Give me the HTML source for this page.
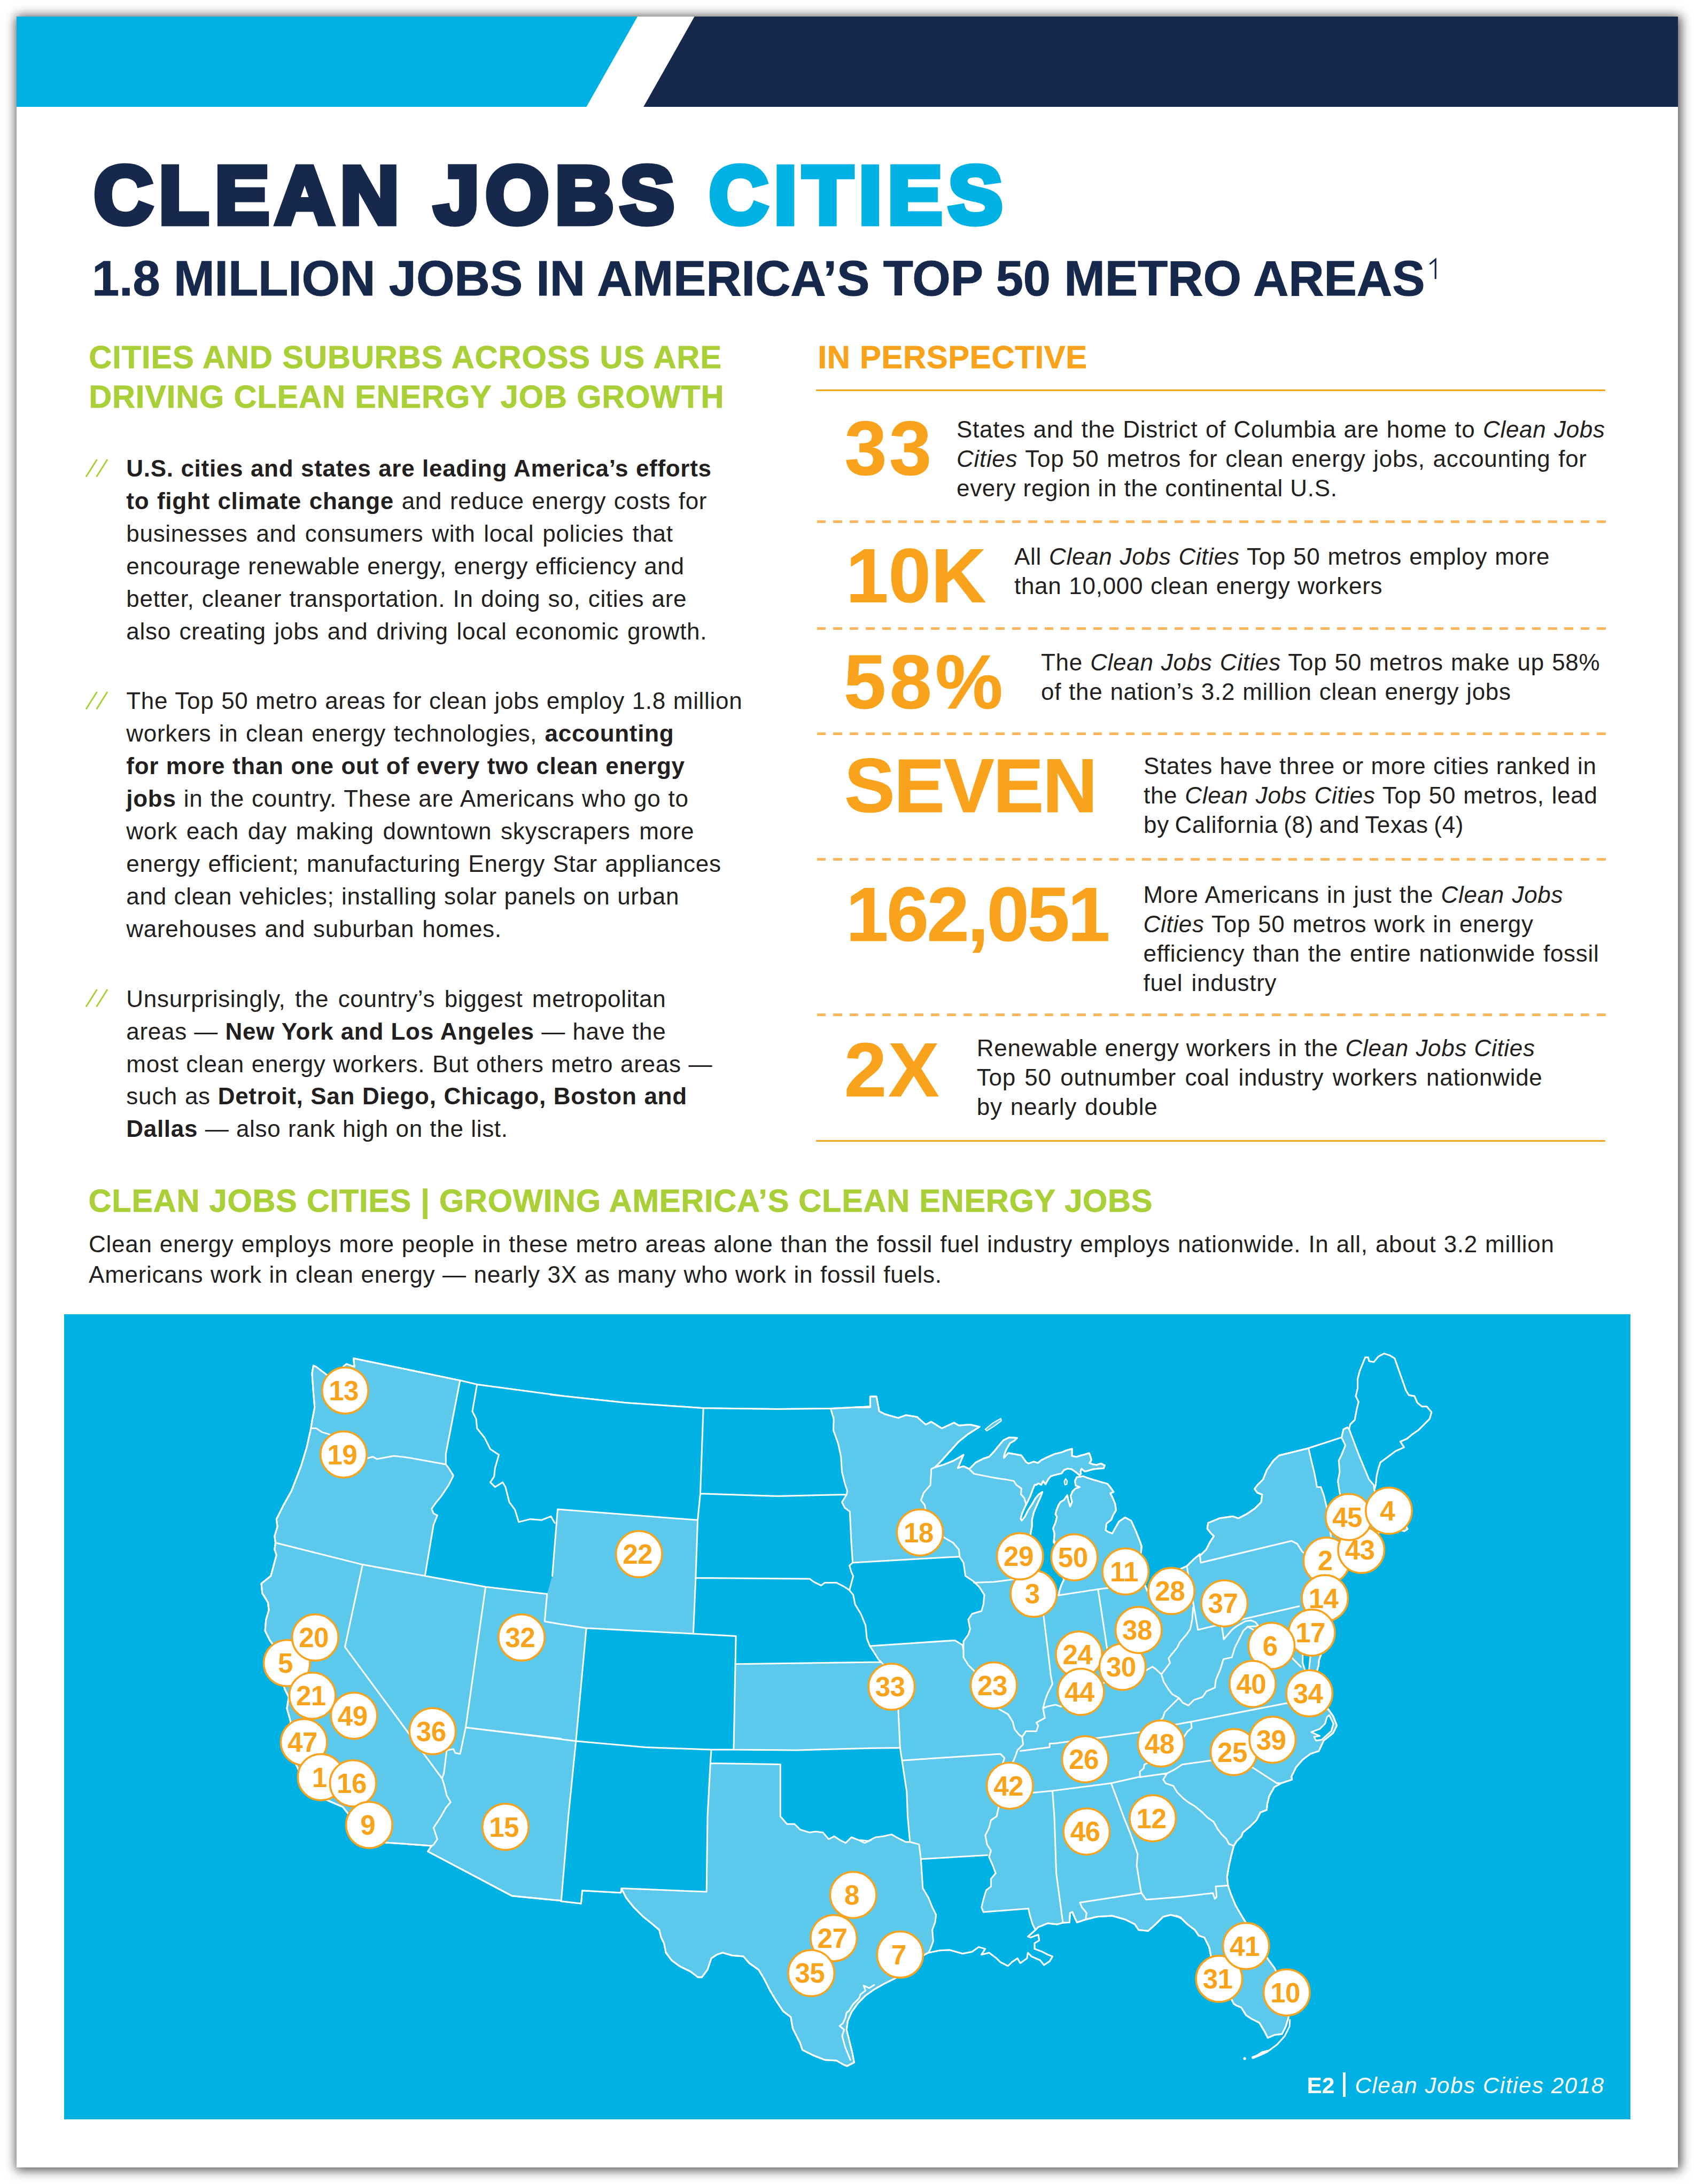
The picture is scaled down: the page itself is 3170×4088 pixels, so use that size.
<!DOCTYPE html>
<html><head><meta charset="utf-8"><title>Clean Jobs Cities</title>
<style>
html,body{margin:0;padding:0;background:#fff;}
body{width:3170px;height:4088px;position:relative;overflow:hidden;font-family:"Liberation Sans",sans-serif;}
#page{position:absolute;left:31px;top:31px;width:3109px;height:4026px;background:#fff;box-shadow:2px 2px 19px 3px rgba(0,0,0,.7);}
.t{position:absolute;z-index:3;white-space:nowrap;font-family:"Liberation Sans",sans-serif;}
.abs{position:absolute}
</style></head><body>
<div id="page"></div>
<svg class="abs" style="left:31px;top:31px" width="3109" height="169" viewBox="31 31 3109 169">
<polygon points="31,31 1193,31 1097.4,200 31,200" fill="#00B2E3"/>
<polygon points="1299.6,31 3140,31 3140,200 1204.2,200" fill="#17284D"/>
</svg>
<div style="position:absolute;left:1527.2px;top:728.5px;width:1476.8px;height:3px;background:#F9A21C"></div>
<div style="position:absolute;left:1529px;top:974.3px;width:1476px;height:5px;background:repeating-linear-gradient(90deg,#FDB75E 0 16.5px,transparent 16.5px 30.4px)"></div>
<div style="position:absolute;left:1529px;top:1174.3px;width:1476px;height:5px;background:repeating-linear-gradient(90deg,#FDB75E 0 16.5px,transparent 16.5px 30.4px)"></div>
<div style="position:absolute;left:1529px;top:1371px;width:1476px;height:5px;background:repeating-linear-gradient(90deg,#FDB75E 0 16.5px,transparent 16.5px 30.4px)"></div>
<div style="position:absolute;left:1529px;top:1606.1px;width:1476px;height:5px;background:repeating-linear-gradient(90deg,#FDB75E 0 16.5px,transparent 16.5px 30.4px)"></div>
<div style="position:absolute;left:1529px;top:1897.3px;width:1476px;height:5px;background:repeating-linear-gradient(90deg,#FDB75E 0 16.5px,transparent 16.5px 30.4px)"></div>
<div style="position:absolute;left:1527.2px;top:2133.8px;width:1476.8px;height:3px;background:#F9A21C"></div>
<div class="t" id="l0" style="left:176.0px;top:289.3px;font-size:152px;line-height:152px;color:#17284D;font-weight:bold;letter-spacing:11.764px;-webkit-text-stroke:11px currentColor;word-spacing:0px;paint-order:stroke fill;">CLEAN JOBS <span style="color:#00B2E3">CITIES</span></div>
<div class="t" id="l1" style="left:172.0px;top:475.4px;font-size:92px;line-height:92px;color:#17284D;font-weight:bold;letter-spacing:-0.112px;-webkit-text-stroke:1px currentColor;">1.8 MILLION JOBS IN AMERICA’S TOP 50 METRO AREAS</div>
<div class="t" id="l2" style="left:166.2px;top:639.3px;font-size:59.5px;line-height:59.5px;color:#A9D038;font-weight:bold;letter-spacing:0.969px;-webkit-text-stroke:0.8px currentColor;">CITIES AND SUBURBS ACROSS US ARE</div>
<div class="t" id="l3" style="left:166.2px;top:712.5px;font-size:59.5px;line-height:59.5px;color:#A9D038;font-weight:bold;letter-spacing:0.858px;-webkit-text-stroke:0.8px currentColor;">DRIVING CLEAN ENERGY JOB GROWTH</div>
<div class="t" id="l4" style="left:236.3px;top:855.2px;font-size:44px;line-height:44px;color:#231F20;font-weight:normal;letter-spacing:0.700px;word-spacing:0.835px;"><b>U.S. cities and states are leading America’s efforts</b></div>
<div class="t" id="l5" style="left:236.3px;top:916.1px;font-size:44px;line-height:44px;color:#231F20;font-weight:normal;letter-spacing:0.700px;word-spacing:1.795px;"><b>to fight climate change</b> and reduce energy costs for</div>
<div class="t" id="l6" style="left:236.3px;top:977.1px;font-size:44px;line-height:44px;color:#231F20;font-weight:normal;letter-spacing:0.700px;word-spacing:3.025px;">businesses and consumers with local policies that</div>
<div class="t" id="l7" style="left:236.3px;top:1038.0px;font-size:44px;line-height:44px;color:#231F20;font-weight:normal;letter-spacing:0.700px;word-spacing:0.786px;">encourage renewable energy, energy efficiency and</div>
<div class="t" id="l8" style="left:236.3px;top:1099.0px;font-size:44px;line-height:44px;color:#231F20;font-weight:normal;letter-spacing:0.700px;word-spacing:1.435px;">better, cleaner transportation. In doing so, cities are</div>
<div class="t" id="l9" style="left:236.3px;top:1159.9px;font-size:44px;line-height:44px;color:#231F20;font-weight:normal;letter-spacing:0.700px;word-spacing:2.875px;">also creating jobs and driving local economic growth.</div>
<div class="t" id="l10" style="left:236.3px;top:1290.0px;font-size:44px;line-height:44px;color:#231F20;font-weight:normal;letter-spacing:0.700px;word-spacing:0.925px;">The Top 50 metro areas for clean jobs employ 1.8 million</div>
<div class="t" id="l11" style="left:236.3px;top:1350.9px;font-size:44px;line-height:44px;color:#231F20;font-weight:normal;letter-spacing:0.700px;word-spacing:1.660px;">workers in clean energy technologies, <b>accounting</b></div>
<div class="t" id="l12" style="left:236.3px;top:1411.9px;font-size:44px;line-height:44px;color:#231F20;font-weight:normal;letter-spacing:0.700px;word-spacing:0.848px;"><b>for more than one out of every two clean energy</b></div>
<div class="t" id="l13" style="left:236.3px;top:1472.8px;font-size:44px;line-height:44px;color:#231F20;font-weight:normal;letter-spacing:0.700px;word-spacing:1.267px;"><b>jobs</b> in the country. These are Americans who go to</div>
<div class="t" id="l14" style="left:236.3px;top:1533.8px;font-size:44px;line-height:44px;color:#231F20;font-weight:normal;letter-spacing:0.700px;word-spacing:3.877px;">work each day making downtown skyscrapers more</div>
<div class="t" id="l15" style="left:236.3px;top:1594.7px;font-size:44px;line-height:44px;color:#231F20;font-weight:normal;letter-spacing:0.700px;word-spacing:1.512px;">energy efficient; manufacturing Energy Star appliances</div>
<div class="t" id="l16" style="left:236.3px;top:1655.7px;font-size:44px;line-height:44px;color:#231F20;font-weight:normal;letter-spacing:0.700px;word-spacing:0.773px;">and clean vehicles; installing solar panels on urban</div>
<div class="t" id="l17" style="left:236.3px;top:1716.6px;font-size:44px;line-height:44px;color:#231F20;font-weight:normal;letter-spacing:0.700px;word-spacing:2.096px;">warehouses and suburban homes.</div>
<div class="t" id="l18" style="left:236.3px;top:1847.6px;font-size:44px;line-height:44px;color:#231F20;font-weight:normal;letter-spacing:0.700px;word-spacing:4.506px;">Unsurprisingly, the country’s biggest metropolitan</div>
<div class="t" id="l19" style="left:236.3px;top:1908.5px;font-size:44px;line-height:44px;color:#231F20;font-weight:normal;letter-spacing:0.700px;word-spacing:0.567px;">areas — <b>New York and Los Angeles</b> — have the</div>
<div class="t" id="l20" style="left:236.3px;top:1969.5px;font-size:44px;line-height:44px;color:#231F20;font-weight:normal;letter-spacing:0.700px;word-spacing:0.901px;">most clean energy workers. But others metro areas —</div>
<div class="t" id="l21" style="left:236.3px;top:2030.4px;font-size:44px;line-height:44px;color:#231F20;font-weight:normal;letter-spacing:0.700px;word-spacing:0.973px;">such as <b>Detroit, San Diego, Chicago, Boston and</b></div>
<div class="t" id="l22" style="left:236.3px;top:2091.4px;font-size:44px;line-height:44px;color:#231F20;font-weight:normal;letter-spacing:0.700px;word-spacing:0.624px;"><b>Dallas</b> — also rank high on the list.</div>
<div class="t" id="l23" style="left:1530.4px;top:639.3px;font-size:59.5px;line-height:59.5px;color:#F9A21C;font-weight:bold;letter-spacing:0.842px;-webkit-text-stroke:0.8px currentColor;">IN PERSPECTIVE</div>
<div class="t" id="l24" style="left:1790.0px;top:781.9px;font-size:44px;line-height:44px;color:#231F20;font-weight:normal;letter-spacing:0.700px;word-spacing:1.628px;">States and the District of Columbia are home to <i>Clean Jobs</i></div>
<div class="t" id="l25" style="left:1790.0px;top:836.8px;font-size:44px;line-height:44px;color:#231F20;font-weight:normal;letter-spacing:0.700px;word-spacing:1.921px;"><i>Cities</i> Top 50 metros for clean energy jobs, accounting for</div>
<div class="t" id="l26" style="left:1790.0px;top:891.7px;font-size:44px;line-height:44px;color:#231F20;font-weight:normal;letter-spacing:0.700px;word-spacing:0.531px;">every region in the continental U.S.</div>
<div class="t" id="l27" style="left:1898.0px;top:1020.1px;font-size:44px;line-height:44px;color:#231F20;font-weight:normal;letter-spacing:0.700px;word-spacing:1.139px;">All <i>Clean Jobs Cities</i> Top 50 metros employ more</div>
<div class="t" id="l28" style="left:1898.0px;top:1075.0px;font-size:44px;line-height:44px;color:#231F20;font-weight:normal;letter-spacing:0.700px;word-spacing:1.007px;">than 10,000 clean energy workers</div>
<div class="t" id="l29" style="left:1948.0px;top:1218.4px;font-size:44px;line-height:44px;color:#231F20;font-weight:normal;letter-spacing:0.700px;word-spacing:1.273px;">The <i>Clean Jobs Cities</i> Top 50 metros make up 58%</div>
<div class="t" id="l30" style="left:1948.0px;top:1273.3px;font-size:44px;line-height:44px;color:#231F20;font-weight:normal;letter-spacing:0.700px;word-spacing:1.085px;">of the nation’s 3.2 million clean energy jobs</div>
<div class="t" id="l31" style="left:2140.0px;top:1412.4px;font-size:44px;line-height:44px;color:#231F20;font-weight:normal;letter-spacing:0.700px;word-spacing:0.554px;">States have three or more cities ranked in</div>
<div class="t" id="l32" style="left:2140.0px;top:1467.3px;font-size:44px;line-height:44px;color:#231F20;font-weight:normal;letter-spacing:0.700px;word-spacing:1.051px;">the <i>Clean Jobs Cities</i> Top 50 metros, lead</div>
<div class="t" id="l33" style="left:2140.0px;top:1522.2px;font-size:44px;line-height:44px;color:#231F20;font-weight:normal;letter-spacing:0.700px;word-spacing:-2.213px;">by California (8) and Texas (4)</div>
<div class="t" id="l34" style="left:2139.5px;top:1653.2px;font-size:44px;line-height:44px;color:#231F20;font-weight:normal;letter-spacing:0.700px;word-spacing:1.500px;">More Americans in just the <i>Clean Jobs</i></div>
<div class="t" id="l35" style="left:2139.5px;top:1708.1px;font-size:44px;line-height:44px;color:#231F20;font-weight:normal;letter-spacing:0.700px;word-spacing:1.178px;"><i>Cities</i> Top 50 metros work in energy</div>
<div class="t" id="l36" style="left:2139.5px;top:1763.0px;font-size:44px;line-height:44px;color:#231F20;font-weight:normal;letter-spacing:0.700px;word-spacing:2.174px;">efficiency than the entire nationwide fossil</div>
<div class="t" id="l37" style="left:2139.5px;top:1817.9px;font-size:44px;line-height:44px;color:#231F20;font-weight:normal;letter-spacing:0.700px;word-spacing:3.456px;">fuel industry</div>
<div class="t" id="l38" style="left:1827.8px;top:1939.8px;font-size:44px;line-height:44px;color:#231F20;font-weight:normal;letter-spacing:0.700px;word-spacing:0.425px;">Renewable energy workers in the <i>Clean Jobs Cities</i></div>
<div class="t" id="l39" style="left:1827.8px;top:1994.7px;font-size:44px;line-height:44px;color:#231F20;font-weight:normal;letter-spacing:0.700px;word-spacing:3.606px;">Top 50 outnumber coal industry workers nationwide</div>
<div class="t" id="l40" style="left:1827.8px;top:2049.6px;font-size:44px;line-height:44px;color:#231F20;font-weight:normal;letter-spacing:0.700px;word-spacing:2.250px;">by nearly double</div>
<div class="t" id="l41" style="left:1580.4px;top:768.3px;font-size:142px;line-height:142px;color:#F9A21C;font-weight:bold;letter-spacing:4.700px;-webkit-text-stroke:1px currentColor;">33</div>
<div class="t" id="l42" style="left:1583.2px;top:1007.2px;font-size:142px;line-height:142px;color:#F9A21C;font-weight:bold;letter-spacing:0.700px;-webkit-text-stroke:1px currentColor;">10K</div>
<div class="t" id="l43" style="left:1579.0px;top:1206.1px;font-size:142px;line-height:142px;color:#F9A21C;font-weight:bold;letter-spacing:6.700px;-webkit-text-stroke:1px currentColor;">58%</div>
<div class="t" id="l44" style="left:1580.1px;top:1399.8px;font-size:142px;line-height:142px;color:#F9A21C;font-weight:bold;letter-spacing:-1.900px;-webkit-text-stroke:1px currentColor;">SEVEN</div>
<div class="t" id="l45" style="left:1583.2px;top:1640.6px;font-size:142px;line-height:142px;color:#F9A21C;font-weight:bold;letter-spacing:-3.200px;-webkit-text-stroke:1px currentColor;">162,051</div>
<div class="t" id="l46" style="left:1580.1px;top:1931.9px;font-size:142px;line-height:142px;color:#F9A21C;font-weight:bold;letter-spacing:3.400px;-webkit-text-stroke:1px currentColor;">2X</div>
<div class="t" id="l47" style="left:2445.5px;top:3882.9px;font-size:42px;line-height:42px;color:#fff;font-weight:bold;letter-spacing:0.125px;">E2</div>
<div class="t" id="l48" style="left:2535.5px;top:3882.9px;font-size:42px;line-height:42px;color:#fff;font-weight:normal;letter-spacing:1.599px;"><i>Clean Jobs Cities 2018</i></div>
<div class="t" id="l49" style="left:165.6px;top:2217.6px;font-size:59.5px;line-height:59.5px;color:#A9D038;font-weight:bold;letter-spacing:0.746px;-webkit-text-stroke:0.8px currentColor;">CLEAN JOBS CITIES | GROWING AMERICA’S CLEAN ENERGY JOBS</div>
<div class="t" id="l50" style="left:166.1px;top:2307.3px;font-size:44px;line-height:44px;color:#231F20;font-weight:normal;letter-spacing:0.700px;word-spacing:1.247px;">Clean energy employs more people in these metro areas alone than the fossil fuel industry employs nationwide. In all, about 3.2 million</div>
<div class="t" id="l51" style="left:166.1px;top:2363.5px;font-size:44px;line-height:44px;color:#231F20;font-weight:normal;letter-spacing:0.700px;word-spacing:0.896px;">Americans work in clean energy — nearly 3X as many who work in fossil fuels.</div>
<svg class="abs" style="left:2670px;top:480px" width="24" height="46" viewBox="2670 480 24 46"><path d="M2675.5 494.5L2686.3 485.6L2686.3 522.2" stroke="#17284D" stroke-width="3.2" fill="none" stroke-linejoin="miter"/></svg>
<svg class="abs" style="left:155px;top:856.9px" width="52" height="40" viewBox="0 0 52 40"><path d="M6 35.5L26.5 3M25.6 35.5L46 3" stroke="#A9D038" stroke-width="3" fill="none"/></svg>
<svg class="abs" style="left:155px;top:1291.7px" width="52" height="40" viewBox="0 0 52 40"><path d="M6 35.5L26.5 3M25.6 35.5L46 3" stroke="#A9D038" stroke-width="3" fill="none"/></svg>
<svg class="abs" style="left:155px;top:1849.3px" width="52" height="40" viewBox="0 0 52 40"><path d="M6 35.5L26.5 3M25.6 35.5L46 3" stroke="#A9D038" stroke-width="3" fill="none"/></svg>
<div class="abs" style="left:120px;top:2460px;width:2931px;height:1506.5px;background:#00B2E3;overflow:hidden"><svg width="2931" height="1507" viewBox="0 0 2931 1507" style="position:absolute;left:0;top:0">
<g fill="none" stroke="#fff" stroke-width="3" stroke-linejoin="round" stroke-linecap="round">
<path d="M541.5 82.5 L740.9 123.9 L772.7 131.4 L930.0 152.6 L910.0 150.5 L1051.7 165.7 L1196.2 175.7 L1335.0 177.4 L1434.2 176.4 L1508.6 172.8 L1490.0 174.6 L1508.4 173.9 L1508.4 154.0 L1520.1 154.0 L1525.4 181.7 L1536.0 187.0 L1560.8 194.1 L1575.0 188.8 L1596.3 192.3 L1612.2 206.5 L1622.8 201.2 L1642.3 213.6 L1665.3 202.9 L1674.2 208.2 L1695.4 206.5 L1713.1 210.7 L1691.9 224.2 L1674.2 238.3 L1656.5 257.8 L1642.3 273.8 L1629.9 286.2 L1645.8 281.6 L1663.6 274.5 L1674.2 268.5 L1683.0 263.1 L1677.7 275.5 L1672.4 287.9 L1683.0 284.4 L1693.7 289.7 L1706.1 277.3 L1720.2 270.2 L1730.9 266.7 L1740.0 257.2 L1747.1 248.3 L1757.7 235.9 L1768.3 230.6 L1783.4 231.5 L1778.1 236.8 L1770.1 241.3 L1763.0 253.6 L1759.5 262.5 L1758.6 268.7 L1766.6 259.8 L1777.2 261.6 L1791.4 264.3 L1800.2 276.7 L1804.6 279.3 L1814.4 275.8 L1822.3 278.4 L1828.5 273.1 L1839.2 267.8 L1853.3 261.6 L1867.5 258.1 L1876.4 254.5 L1886.1 251.9 L1886.1 265.2 L1894.1 266.9 L1902.9 264.3 L1910.0 262.5 L1918.0 259.8 L1920.6 266.0 L1922.4 273.1 L1918.9 278.4 L1926.0 281.1 L1932.1 282.0 L1940.1 279.3 L1947.2 282.9 L1945.4 288.2 L1934.8 289.1 L1926.0 290.0 L1917.1 292.6 L1910.0 294.4 L1903.8 289.1 L1902.0 294.4 L1902.9 298.8 L1900.3 301.5 L1894.1 296.2 L1885.2 290.0 L1877.2 289.1 L1871.1 291.7 L1866.6 297.9 L1855.1 300.6 L1846.3 303.2 L1841.8 308.5 L1836.5 318.3 L1832.1 312.1 L1828.5 319.2 L1823.2 316.5 L1819.7 319.2 L1816.2 319.2 L1812.6 328.0 L1807.3 342.2 L1800.2 356.4 L1796.7 363.4 L1792.2 374.1 L1790.1 382.9 L1792.2 386.1 L1797.6 379.4 L1803.8 367.0 L1810.8 356.4 L1817.9 344.0 L1824.1 336.9 L1830.7 332.5 L1827.1 342.2 L1820.0 358.1 L1814.7 370.5 L1811.2 384.7 L1811.2 397.1 L1809.1 407.7 L1807.3 420.1 L1815.0 440.0 L1820.0 475.0 L1825.0 500.0 L1840.0 518.0 L1855.0 524.0 L1861.3 526.1 L1862.2 518.7 L1865.7 508.0 L1871.0 496.5 L1860.0 470.0 L1855.0 440.0 L1853.3 424.8 L1851.6 427.2 L1852.5 420.1 L1853.3 411.3 L1850.7 400.6 L1855.1 390.0 L1857.8 379.4 L1855.1 374.1 L1856.9 367.0 L1860.4 358.1 L1864.0 351.9 L1871.1 347.5 L1877.2 338.7 L1879.0 347.5 L1882.6 359.9 L1886.1 351.1 L1883.4 340.4 L1887.0 331.6 L1892.3 326.3 L1900.3 323.6 L1893.2 320.9 L1891.4 312.1 L1895.0 305.0 L1906.5 303.2 L1917.1 306.8 L1927.7 310.3 L1940.1 313.9 L1952.5 317.4 L1959.6 326.3 L1964.0 332.5 L1957.8 335.1 L1962.3 344.0 L1966.7 354.6 L1968.5 367.0 L1963.1 375.8 L1959.6 384.7 L1950.7 391.8 L1949.0 404.2 L1954.3 407.7 L1961.4 410.4 L1967.6 398.9 L1973.8 388.2 L1985.3 380.3 L1996.8 386.5 L2005.6 406.0 L2012.7 423.7 L2016.3 434.3 L2015.4 444.9 L2010.0 465.0 L2015.0 495.0 L2021.3 504.0 L2026.9 517.8 L2040.0 525.0 L2065.0 515.0 L2080.0 490.0 L2087.9 477.4 L2101.0 471.4 L2112.7 459.7 L2125.1 449.1 L2124.9 452.6 L2137.3 440.2 L2144.4 426.1 L2151.5 415.4 L2146.2 410.1 L2139.1 401.3 L2140.8 390.6 L2162.1 381.8 L2186.9 378.3 L2197.5 381.8 L2211.7 374.7 L2227.6 364.1 L2240.0 351.7 L2241.8 337.5 L2232.9 334.0 L2227.6 326.9 L2232.9 319.8 L2243.6 309.2 L2250.6 291.5 L2263.0 273.8 L2273.7 264.2 L2328.6 250.7 L2390.5 230.6 L2394.1 215.3 L2401.2 211.8 L2404.7 215.3 L2406.5 206.5 L2415.3 197.6 L2418.9 178.1 L2422.4 164.0 L2417.1 153.3 L2420.6 139.2 L2420.6 121.5 L2424.2 107.3 L2434.8 80.7 L2440.1 80.7 L2441.9 87.8 L2450.8 89.6 L2459.6 79.0 L2470.2 73.6 L2480.9 77.2 L2489.7 82.5 L2511.0 142.7 L2516.3 151.6 L2526.9 153.3 L2532.2 165.7 L2541.1 172.8 L2549.9 172.8 L2558.8 183.4 L2555.2 195.8 L2544.6 206.5 L2534.0 217.1 L2523.4 224.2 L2512.7 233.0 L2500.3 238.3 L2507.4 249.0 L2491.5 256.1 L2477.3 266.7 L2463.2 277.3 L2459.6 287.9 L2456.1 302.1 L2454.3 319.8 L2451.8 328.7 L2460.0 350.0 L2480.0 370.0 L2510.0 395.0 L2514.0 402.0 L2508.0 406.0 L2485.0 400.0 L2465.0 406.0 L2450.0 415.0 L2420.0 465.0 L2390.0 475.0 L2370.0 490.0 L2370.0 505.0 L2372.0 540.0 L2360.0 570.0 L2350.0 610.0 L2351.8 637.8 L2348.2 647.7 L2347.5 657.6 L2344.7 666.8 L2341.8 674.6 L2345.0 700.0 L2360.0 730.0 L2365.8 739.7 L2374.6 752.1 L2381.7 769.8 L2374.6 784.0 L2356.9 798.1 L2348.0 817.6 L2332.1 822.9 L2317.9 833.6 L2305.5 847.7 L2296.7 865.4 L2297.7 871.1 L2277.6 877.7 L2264.6 885.3 L2255.2 901.8 L2251.6 916.0 L2250.4 927.8 L2238.6 932.5 L2231.5 946.7 L2219.7 958.5 L2205.6 970.3 L2203.2 977.4 L2193.8 986.8 L2189.0 995.1 L2186.7 1003.4 L2183.5 1016.0 L2179.8 1032.1 L2176.3 1053.3 L2178.0 1069.3 L2183.3 1085.2 L2192.2 1106.5 L2204.6 1127.7 L2213.4 1141.9 L2232.9 1177.3 L2254.2 1209.2 L2264.8 1223.4 L2282.5 1258.8 L2291.4 1294.2 L2291.4 1315.4 L2286.1 1333.2 L2279.0 1347.3 L2264.8 1349.1 L2252.4 1354.4 L2247.1 1343.8 L2236.5 1326.1 L2222.3 1319.0 L2211.7 1311.9 L2202.8 1297.7 L2194.0 1294.2 L2188.7 1290.6 L2183.3 1280.0 L2165.6 1251.7 L2149.7 1223.4 L2146.2 1202.1 L2142.6 1184.4 L2133.8 1166.7 L2123.1 1163.1 L2116.0 1152.5 L2101.9 1141.9 L2091.3 1131.3 L2080.6 1126.0 L2090.0 1129.5 L2070.9 1124.2 L2056.7 1127.7 L2042.5 1141.9 L2028.4 1154.3 L2010.7 1152.5 L2003.6 1141.9 L1985.9 1133.0 L1961.1 1126.0 L1932.7 1127.7 L1911.5 1133.0 L1895.5 1138.3 L1892.0 1131.3 L1886.7 1118.9 L1882.4 1120.6 L1881.4 1138.3 L1869.0 1139.1 L1858.4 1141.9 L1840.6 1140.1 L1822.9 1147.2 L1817.6 1152.5 L1803.5 1164.9 L1808.8 1166.7 L1822.9 1161.4 L1824.7 1172.0 L1815.9 1177.3 L1815.9 1187.9 L1830.0 1193.2 L1840.6 1198.6 L1849.5 1202.1 L1844.2 1211.0 L1833.6 1218.0 L1826.5 1209.2 L1810.5 1202.1 L1803.5 1195.0 L1801.7 1205.6 L1789.3 1214.5 L1784.0 1205.6 L1773.4 1212.7 L1766.3 1219.8 L1752.1 1212.7 L1745.0 1205.6 L1730.9 1195.0 L1716.7 1198.6 L1723.8 1187.9 L1711.4 1184.4 L1699.0 1193.2 L1681.3 1196.8 L1656.5 1189.7 L1638.8 1190.8 L1617.5 1195.0 L1610.4 1198.6 L1582.1 1219.8 L1555.5 1242.8 L1535.0 1253.0 L1516.1 1263.6 L1499.6 1275.4 L1485.4 1289.6 L1473.6 1306.1 L1466.5 1322.6 L1464.2 1339.2 L1468.9 1358.1 L1474.8 1381.7 L1478.3 1400.6 L1465.4 1407.2 L1459.5 1405.3 L1445.3 1397.0 L1424.0 1395.8 L1402.8 1387.6 L1381.5 1377.0 L1376.8 1362.8 L1374.0 1357.9 L1363.4 1336.7 L1359.8 1315.4 L1345.7 1304.8 L1331.5 1283.6 L1320.9 1265.9 L1310.2 1244.6 L1299.6 1226.9 L1281.9 1214.5 L1271.3 1202.1 L1250.0 1200.3 L1232.3 1195.0 L1221.7 1198.6 L1211.1 1205.6 L1204.0 1226.9 L1193.4 1241.1 L1186.3 1241.1 L1172.1 1230.4 L1150.9 1219.8 L1136.7 1209.2 L1126.1 1195.0 L1122.5 1177.3 L1117.2 1166.7 L1113.7 1152.5 L1101.3 1141.9 L1083.6 1127.7 L1065.8 1110.0 L1051.7 1092.3 L1042.8 1074.6 L1041.8 1082.7 L969.5 1078.8 L967.4 1102.9 L930.2 1098.7 L928.6 1097.6 L838.3 1088.8 L680.6 1005.5 L687.7 994.9 L602.7 988.9 L556.7 982.5 L542.5 954.2 L535.4 939.8 L521.3 922.1 L496.5 911.5 L471.7 900.9 L450.4 879.6 L436.3 847.7 L422.1 819.4 L415.0 791.1 L423.9 762.7 L416.8 737.9 L420.3 716.7 L413.2 702.5 L406.2 681.3 L400.8 649.4 L390.2 617.5 L384.9 610.4 L376.0 592.7 L377.8 571.5 L383.1 553.8 L381.4 539.6 L370.7 521.9 L369.0 504.2 L386.7 490.0 L397.3 450.9 L393.8 440.2 L395.5 427.8 L393.8 415.4 L399.1 397.7 L397.3 383.6 L409.7 358.8 L425.6 330.4 L443.3 284.4 L454.0 249.0 L461.8 213.6 L464.6 195.8 L468.8 174.6 L466.4 146.3 L463.9 110.8 L466.4 96.0 L471.7 98.4 L492.9 114.4 L514.2 110.8 L523.0 97.4 L528.3 93.1 L543.2 98.4 L541.5 82.5Z" fill="#5BC8EC"/>
<path d="M740.9 123.9 L772.7 131.4 L930.0 152.6 L910.0 150.5 L1051.7 165.7 L1196.2 175.7 L1335.0 177.4 L1434.2 176.4 L1440.2 195.8 L1439.5 217.1 L1448.4 241.9 L1453.7 266.7 L1455.5 295.0 L1460.8 316.3 L1465.4 330.4 L1464.3 337.5 L1455.5 351.7 L1460.8 362.3 L1470.3 369.4 L1473.2 429.6 L1475.6 465.0 L1676.0 453.7 L1676.0 454.4 L1683.0 465.0 L1686.6 489.8 L1702.5 500.6 L1713.1 511.3 L1722.0 525.4 L1720.2 543.1 L1716.7 555.5 L1699.0 560.8 L1691.9 571.5 L1695.4 589.2 L1691.9 599.8 L1683.0 612.2 L1683.0 629.9 L1681.3 619.3 L1667.1 610.4 L1507.7 621.1 L1514.8 631.7 L1523.6 645.8 L1532.5 654.7 L1529.0 651.2 L1510.0 651.2 L1257.1 654.7 L1252.9 815.1 L1370.4 815.9 L1510.0 812.3 L1564.4 811.6 L1564.4 812.3 L1567.9 835.3 L1576.8 893.8 L1578.5 939.8 L1582.8 987.8 L1575.0 987.8 L1560.8 980.7 L1548.4 973.6 L1532.5 977.2 L1518.3 979.0 L1504.2 986.0 L1490.0 984.3 L1510.0 984.3 L1498.0 989.6 L1487.3 984.3 L1473.2 979.0 L1462.5 989.6 L1451.9 984.3 L1441.3 977.2 L1430.7 982.5 L1420.0 970.1 L1405.9 968.3 L1395.2 970.1 L1377.5 964.8 L1366.9 954.2 L1352.7 954.2 L1340.3 939.8 L1340.3 842.4 L1209.3 840.6 L1204.0 939.8 L1202.2 1081.0 L1042.8 1074.6 L1041.8 1082.7 L969.5 1078.8 L967.4 1102.9 L930.2 1098.7 L943.6 939.8 L957.8 798.9 L977.3 587.4 L1177.4 598.0 L1182.0 489.8 L1185.6 385.3 L923.5 365.1 L913.5 489.8 L903.8 523.6 L788.7 510.2 L675.3 489.8 L691.3 394.2 L698.4 376.5 L691.3 372.9 L687.7 364.1 L696.6 351.7 L705.4 341.1 L719.6 319.8 L728.5 302.1 L719.6 287.9 L714.3 280.9 L714.3 261.4 L740.9 123.9Z" fill="#00B2E3" stroke="none"/>
<path d="M1603.3 1019.7 L1727.3 1012.6 L1730.9 1016.2 L1737.9 1032.1 L1743.2 1046.3 L1734.4 1056.9 L1734.4 1071.1 L1725.5 1078.1 L1720.2 1095.8 L1716.7 1110.0 L1720.2 1118.9 L1804.5 1112.5 L1807.0 1124.2 L1812.3 1141.9 L1817.6 1152.5 L1803.5 1164.9 L1808.8 1166.7 L1822.9 1161.4 L1824.7 1172.0 L1815.9 1177.3 L1815.9 1187.9 L1830.0 1193.2 L1840.6 1198.6 L1849.5 1202.1 L1844.2 1211.0 L1833.6 1218.0 L1826.5 1209.2 L1810.5 1202.1 L1803.5 1195.0 L1801.7 1205.6 L1789.3 1214.5 L1784.0 1205.6 L1773.4 1212.7 L1766.3 1219.8 L1752.1 1212.7 L1745.0 1205.6 L1730.9 1195.0 L1716.7 1198.6 L1723.8 1187.9 L1711.4 1184.4 L1699.0 1193.2 L1681.3 1196.8 L1656.5 1189.7 L1638.8 1190.8 L1617.5 1195.0 L1621.1 1187.9 L1626.4 1173.8 L1624.6 1152.5 L1629.9 1138.3 L1631.7 1124.2 L1624.6 1110.0 L1617.5 1092.3 L1606.9 1074.6 L1603.3 1019.7Z" fill="#00B2E3" stroke="none"/>
<path d="M2328.6 250.7 L2390.5 230.6 L2397.6 245.4 L2390.5 263.1 L2385.2 273.8 L2387.0 295.0 L2383.5 312.7 L2387.0 334.0 L2390.5 348.1 L2394.1 376.5 L2393.0 369.4 L2364.7 376.5 L2362.2 358.8 L2356.9 337.5 L2351.6 323.4 L2344.5 323.4 L2342.7 312.7 L2339.2 295.0 L2333.9 273.8 L2328.6 250.7Z" fill="#00B2E3" stroke="none"/>
<path d="M2404.7 215.3 L2406.5 206.5 L2415.3 197.6 L2418.9 178.1 L2422.4 164.0 L2417.1 153.3 L2420.6 139.2 L2420.6 121.5 L2424.2 107.3 L2434.8 80.7 L2440.1 80.7 L2441.9 87.8 L2450.8 89.6 L2459.6 79.0 L2470.2 73.6 L2480.9 77.2 L2489.7 82.5 L2511.0 142.7 L2516.3 151.6 L2526.9 153.3 L2532.2 165.7 L2541.1 172.8 L2549.9 172.8 L2558.8 183.4 L2555.2 195.8 L2544.6 206.5 L2534.0 217.1 L2523.4 224.2 L2512.7 233.0 L2500.3 238.3 L2507.4 249.0 L2491.5 256.1 L2477.3 266.7 L2463.2 277.3 L2459.6 287.9 L2456.1 302.1 L2454.3 319.8 L2451.8 328.7 L2450.8 319.8 L2441.9 309.2 L2424.2 266.7 L2404.7 215.3Z" fill="#00B2E3" stroke="none"/>
<path d="M2319.2 625.0 L2333.3 625.0 L2331.9 642.0 L2329.8 664.7 L2329.1 674.6 L2324.1 674.6 L2322.0 665.8 L2317.8 653.3 L2317.8 639.2Z" fill="#00B2E3"/>
<path d="M2367.5 750.3 L2375.3 766.3 L2371.1 780.4 L2353.4 796.4 L2342.7 798.1 L2339.2 791.1 L2349.8 789.3 L2333.9 782.2 L2349.8 776.2 L2359.7 766.3 L2363.3 753.9Z" fill="#00B2E3"/>
<path d="M1723.8 215.3 L1737.9 203.6 L1752.8 195.1 L1753.9 199.4 L1739.7 210.0 L1726.6 218.2Z" fill="#5BC8EC" stroke-width="2"/>
<path d="M1874.2 307.7 L1877.2 312.1 L1876.4 318.3 L1872.8 319.2 L1871.4 313.0Z" fill="#5BC8EC" stroke-width="2"/>
<path d="M461.8 213.6 L471.7 213.6 L482.3 220.6 L496.5 224.9 L528.3 252.5 L568.0 269.5 L577.9 266.7 L585.0 270.9 L616.9 265.3 L638.1 267.4 L714.3 280.9 M740.9 123.9 L714.3 261.4 L714.3 280.9 M714.3 280.9 L719.6 287.9 L728.5 302.1 L719.6 319.8 L705.4 341.1 L696.6 351.7 L687.7 364.1 L691.3 372.9 L698.4 376.5 L691.3 394.2 L675.3 489.8 M772.7 131.4 L763.9 181.7 L771.0 195.8 L772.7 213.6 L786.9 231.3 L797.5 252.5 L813.5 263.1 L806.4 287.9 L804.6 303.9 L797.5 314.5 L806.4 323.4 L820.6 314.5 L825.9 323.4 L833.0 351.7 L843.6 365.9 L850.7 388.9 L871.9 383.6 L893.2 385.3 L910.9 378.3 L918.0 390.6 M1196.2 175.7 L1190.5 335.7 L1185.6 385.3 L1182.0 489.8 M923.5 365.1 L1185.6 385.3 M923.5 365.1 L913.5 489.8 M1190.5 335.7 L1335.0 340.4 L1464.3 337.5 M1434.2 176.4 L1440.2 195.8 L1439.5 217.1 L1448.4 241.9 L1453.7 266.7 L1455.5 295.0 L1460.8 316.3 L1465.4 330.4 L1464.3 337.5 M1464.3 337.5 L1455.5 351.7 L1460.8 362.3 L1470.3 369.4 L1473.2 429.6 L1475.6 465.0 M1629.9 286.2 L1622.8 289.7 L1621.1 319.8 L1608.7 334.0 L1603.3 348.1 L1610.4 357.0 L1612.2 365.9 L1631.7 394.2 L1645.8 417.2 L1663.6 427.8 L1674.2 440.2 L1676.0 454.4 M1475.6 465.0 L1676.0 453.7 M1693.7 289.7 L1702.5 298.6 L1737.9 305.6 L1740.0 305.9 L1763.0 309.4 L1777.2 312.1 L1781.6 319.2 L1791.4 326.3 L1790.5 336.9 L1796.7 344.0 L1800.2 356.4 M395.5 427.8 L558.5 468.6 L675.3 489.8 L788.7 510.2 L903.8 523.6 M558.5 468.6 L525.5 622.8 L707.2 869.0 M788.7 510.2 L751.5 773.4 M751.5 773.4 L742.6 815.9 L740.9 822.9 L732.0 821.2 L728.5 814.1 L716.1 815.9 L712.5 844.2 L710.8 858.4 L707.2 869.0 M707.2 869.0 L710.8 879.6 L716.1 900.9 L723.2 913.3 L714.3 923.9 L705.4 939.8 M705.4 939.8 L698.4 950.6 L691.3 961.3 L694.8 971.9 L698.4 982.5 L691.3 993.1 L687.7 994.9 M751.5 773.4 L930.0 794.6 M903.8 523.6 L899.2 575.0 L930.0 580.3 M930.0 580.3 L977.3 587.4 L1177.4 598.0 M1182.0 489.8 L1177.4 598.0 M1177.4 598.0 L1257.1 602.6 M1182.7 493.5 L1395.2 495.3 L1402.3 500.6 L1416.5 507.7 L1423.6 502.4 L1444.8 502.4 L1459.0 509.5 L1469.6 516.6 M1469.6 516.6 L1476.7 525.4 L1480.2 543.1 L1490.9 560.8 L1499.7 582.1 L1502.2 606.9 M1502.2 606.9 L1507.7 621.1 M1475.6 465.0 L1469.6 470.3 L1473.2 482.7 L1476.7 490.0 L1469.6 516.6 M1257.1 602.6 L1252.9 815.1 M1257.1 654.7 L1510.0 651.2 M1510.0 651.2 L1529.0 651.2 M751.5 773.4 L957.8 798.9 L1087.1 810.5 L1211.1 815.1 L1252.9 815.1 L1370.4 815.9 L1510.0 812.3 M1510.0 812.3 L1564.4 811.6 M977.3 587.4 L957.8 798.9 M957.8 798.9 L943.6 939.8 M943.6 939.8 L930.2 1098.7 M1211.1 815.1 L1209.3 840.6 M1209.3 840.6 L1340.3 842.4 M1507.7 621.1 L1514.8 631.7 L1523.6 645.8 L1532.5 654.7 L1550.2 688.3 L1560.8 737.9 L1564.4 812.3 L1567.9 835.3 M1507.7 621.1 L1667.1 610.4 L1681.3 619.3 L1683.0 629.9 M1676.0 454.4 L1683.0 465.0 L1686.6 489.8 L1702.5 500.6 L1713.1 511.3 L1722.0 525.4 L1720.2 543.1 L1716.7 555.5 L1699.0 560.8 L1691.9 571.5 L1695.4 589.2 L1691.9 599.8 L1683.0 612.2 L1683.0 629.9 M1702.5 502.4 L1740.0 500.9 L1775.4 496.5 L1824.0 490.0 M1683.0 629.9 L1683.0 642.3 L1691.9 656.5 L1702.5 667.1 L1723.8 702.5 L1750.3 739.7 L1766.3 748.6 L1775.1 762.7 L1778.7 776.9 L1787.5 787.5 L1792.8 791.1 M1792.8 791.1 L1794.6 805.2 L1784.0 815.9 L1780.4 826.5 L1776.9 835.3 L1769.8 847.7 L1766.3 865.4 L1762.7 886.7 L1755.6 907.9 L1748.6 923.9 L1745.0 939.8 M1745.0 939.8 L1734.4 947.1 L1730.9 961.3 L1723.8 975.4 L1727.3 993.1 L1734.4 1003.8 L1730.9 1016.2 L1737.9 1032.1 L1743.2 1046.3 L1734.4 1056.9 L1734.4 1071.1 L1725.5 1078.1 L1720.2 1095.8 L1716.7 1110.0 L1720.2 1118.9 M1567.9 835.3 L1752.1 822.9 L1759.9 830.7 L1754.9 844.2 L1769.8 847.7 M1825.0 502.0 L1833.0 565.6 L1844.2 656.5 L1846.0 674.2 L1849.5 691.9 L1840.6 709.6 L1835.3 723.8 L1831.8 737.9 M1792.8 791.1 L1799.9 780.4 L1819.4 780.4 L1822.9 769.8 L1819.4 764.5 L1835.3 755.6 L1831.8 737.9 L1838.9 734.4 L1854.8 730.9 L1865.4 734.4 L1886.7 723.8 L1907.9 716.7 L1929.2 695.4 L1950.4 688.3 L1971.7 674.2 L1993.0 656.5 L2010.0 663.4 L2024.2 666.9 L2036.6 659.8 L2041.9 663.4 L2053.2 674.0 M1934.8 514.8 L1951.6 624.9 L1961.1 656.5 M1861.3 526.1 L1934.8 514.8 L1956.1 511.9 L2021.3 504.0 M1789.3 817.6 L1844.2 810.5 L1844.2 803.5 L1851.3 803.5 L1950.4 791.1 L2014.2 782.2 M1762.7 886.7 L1814.1 895.5 L1849.5 892.0 L1959.3 877.8 L2010.7 866.2 M1849.5 892.0 L1853.0 939.8 M1853.0 939.8 L1856.6 1046.3 L1869.0 1139.1 M1959.3 877.8 L1982.3 939.8 M1982.3 939.8 L1996.5 975.4 L2008.9 1010.8 L2007.1 1032.1 L2014.2 1074.6 L2016.0 1083.4 L2024.8 1095.8 M1567.9 835.3 L1576.8 893.8 L1578.5 939.8 M1578.5 939.8 L1582.8 987.8 M2101.0 471.4 L2121.6 590.7 M2121.6 590.7 L2165.9 580.1 L2311.1 546.5 M2112.7 549.3 L2111.0 571.3 L2107.4 589.0 L2100.3 599.6 L2087.9 613.8 L2082.6 624.4 L2073.8 635.0 L2066.7 643.9 L2069.5 652.7 L2061.4 663.4 L2053.2 674.0 M2053.2 674.0 L2057.8 688.1 L2066.7 702.3 L2073.8 711.2 L2086.2 718.3 M2165.9 580.1 L2170.1 608.5 M2170.1 608.5 L2185.3 590.7 L2194.2 583.7 L2210.1 574.8 L2220.8 573.0 L2229.6 576.6 L2234.9 583.7 L2215.1 584.7 M2215.1 584.7 L2206.6 592.5 L2190.6 624.4 L2185.3 642.1 L2169.4 645.6 L2164.1 663.4 L2155.2 684.6 L2153.5 698.8 L2137.5 705.9 L2130.4 716.5 L2114.5 721.8 L2103.9 732.4 L2093.2 727.1 L2086.2 718.3 M2215.2 584.9 L2229.4 592.7 L2247.1 606.9 L2268.3 624.6 L2289.6 631.7 L2300.2 645.8 L2314.4 660.0 M2086.2 718.3 L2059.6 744.8 L2056.1 755.4 L2038.3 773.2 L2017.1 783.8 M2014.2 782.2 L2070.0 769.8 L2109.0 762.7 M2109.0 762.7 L2287.8 728.0 L2365.7 739.7 M2109.0 762.7 L2109.9 774.3 L2101.7 781.4 L2095.8 790.8 L2073.3 814.5 L2042.6 833.3 L2021.4 842.8 L2020.2 849.9 L2013.1 855.8 L2013.1 866.4 M2013.1 866.4 L2063.9 859.3 M2063.9 859.3 L2078.1 852.2 L2092.2 842.8 L2101.7 841.6 L2146.5 835.2 L2224.5 848.7 L2269.3 877.7 L2277.6 877.7 M2063.9 859.3 L2056.8 871.1 L2061.5 878.2 L2075.7 882.9 L2082.8 894.7 L2094.6 906.5 L2104.0 913.6 L2115.8 920.7 L2130.0 932.5 L2139.5 942.0 L2151.3 950.2 L2158.3 963.2 L2165.4 972.7 L2174.9 982.1 L2179.6 991.5 L2189.0 995.1 M2179.6 991.5 L2189.0 995.1 M1042.8 1074.6 L1202.2 1081.0 M1209.3 840.6 L1204.0 939.8 L1202.2 1081.0 M1340.3 842.4 L1340.3 939.8 L1352.7 954.2 L1366.9 954.2 L1377.5 964.8 L1395.2 970.1 L1405.9 968.3 L1420.0 970.1 L1430.7 982.5 L1441.3 977.2 L1451.9 984.3 L1462.5 989.6 L1473.2 979.0 L1487.3 984.3 L1498.0 989.6 L1510.0 984.3 M1490.0 984.3 L1504.2 986.0 L1518.3 979.0 L1532.5 977.2 L1548.4 973.6 L1560.8 980.7 L1575.0 987.8 L1582.8 987.8 M1582.8 987.8 L1599.8 992.4 L1603.3 1019.7 M1603.3 1019.7 L1727.3 1012.6 M1603.3 1019.7 L1606.9 1074.6 L1617.5 1092.3 L1624.6 1110.0 L1631.7 1124.2 L1629.9 1138.3 L1624.6 1152.5 L1626.4 1173.8 L1621.1 1187.9 L1617.5 1195.0 M1720.2 1118.9 L1804.5 1112.5 L1807.0 1124.2 L1812.3 1141.9 L1817.6 1152.5 M2016.0 1083.4 L1900.9 1101.2 L1904.4 1110.0 L1913.3 1120.6 L1911.5 1133.0 M2024.8 1095.8 L2090.0 1090.5 M2090.0 1090.5 L2149.7 1083.4 L2153.2 1094.1 L2156.8 1090.5 L2155.0 1071.1 L2178.0 1069.3 M2125.1 449.1 L2126.9 465.0 L2296.9 424.3 L2307.5 429.6 L2316.4 443.8 L2325.2 450.8 L2323.5 472.1 L2328.8 486.3 M2328.6 250.7 L2333.9 273.8 L2339.2 295.0 L2342.7 312.7 L2344.5 323.4 L2351.6 323.4 L2356.9 337.5 L2362.2 358.8 L2367.5 394.2 L2371.1 419.0 M2390.5 230.6 L2397.6 245.4 L2390.5 263.1 L2385.2 273.8 L2387.0 295.0 L2383.5 312.7 L2387.0 334.0 L2390.5 348.1 L2394.1 376.5 M2404.7 215.3 L2424.2 266.7 L2441.9 309.2 L2450.8 319.8 L2451.8 328.7 M2293.8 1320.8 L2293.1 1333.2 L2284.3 1350.9 L2270.1 1366.8 L2254.2 1378.5 L2241.8 1381.0 L2229.4 1389.1 M1471.3 1395.8 L1461.8 1372.2 L1455.9 1351.0 L1459.5 1339.2 L1451.2 1332.1 L1457.1 1327.4 L1461.8 1317.9 L1464.2 1307.3 L1468.9 1303.8 L1476.0 1291.9 L1487.8 1280.1 L1490.2 1273.1 L1499.6 1266.0 L1496.1 1256.5 L1506.7 1261.3 L1516.1 1255.3"/>
<path d="M541.5 82.5 L740.9 123.9 L772.7 131.4 L930.0 152.6 L910.0 150.5 L1051.7 165.7 L1196.2 175.7 L1335.0 177.4 L1434.2 176.4 L1508.6 172.8 L1490.0 174.6 L1508.4 173.9 L1508.4 154.0 L1520.1 154.0 L1525.4 181.7 L1536.0 187.0 L1560.8 194.1 L1575.0 188.8 L1596.3 192.3 L1612.2 206.5 L1622.8 201.2 L1642.3 213.6 L1665.3 202.9 L1674.2 208.2 L1695.4 206.5 L1713.1 210.7 L1691.9 224.2 L1674.2 238.3 L1656.5 257.8 L1642.3 273.8 L1629.9 286.2 L1645.8 281.6 L1663.6 274.5 L1674.2 268.5 L1683.0 263.1 L1677.7 275.5 L1672.4 287.9 L1683.0 284.4 L1693.7 289.7 L1706.1 277.3 L1720.2 270.2 L1730.9 266.7 L1740.0 257.2 L1747.1 248.3 L1757.7 235.9 L1768.3 230.6 L1783.4 231.5 L1778.1 236.8 L1770.1 241.3 L1763.0 253.6 L1759.5 262.5 L1758.6 268.7 L1766.6 259.8 L1777.2 261.6 L1791.4 264.3 L1800.2 276.7 L1804.6 279.3 L1814.4 275.8 L1822.3 278.4 L1828.5 273.1 L1839.2 267.8 L1853.3 261.6 L1867.5 258.1 L1876.4 254.5 L1886.1 251.9 L1886.1 265.2 L1894.1 266.9 L1902.9 264.3 L1910.0 262.5 L1918.0 259.8 L1920.6 266.0 L1922.4 273.1 L1918.9 278.4 L1926.0 281.1 L1932.1 282.0 L1940.1 279.3 L1947.2 282.9 L1945.4 288.2 L1934.8 289.1 L1926.0 290.0 L1917.1 292.6 L1910.0 294.4 L1903.8 289.1 L1902.0 294.4 L1902.9 298.8 L1900.3 301.5 L1894.1 296.2 L1885.2 290.0 L1877.2 289.1 L1871.1 291.7 L1866.6 297.9 L1855.1 300.6 L1846.3 303.2 L1841.8 308.5 L1836.5 318.3 L1832.1 312.1 L1828.5 319.2 L1823.2 316.5 L1819.7 319.2 L1816.2 319.2 L1812.6 328.0 L1807.3 342.2 L1800.2 356.4 L1796.7 363.4 L1792.2 374.1 L1790.1 382.9 L1792.2 386.1 L1797.6 379.4 L1803.8 367.0 L1810.8 356.4 L1817.9 344.0 L1824.1 336.9 L1830.7 332.5 L1827.1 342.2 L1820.0 358.1 L1814.7 370.5 L1811.2 384.7 L1811.2 397.1 L1809.1 407.7 L1807.3 420.1 L1815.0 440.0 L1820.0 475.0 L1825.0 500.0 L1840.0 518.0 L1855.0 524.0 L1861.3 526.1 L1862.2 518.7 L1865.7 508.0 L1871.0 496.5 L1860.0 470.0 L1855.0 440.0 L1853.3 424.8 L1851.6 427.2 L1852.5 420.1 L1853.3 411.3 L1850.7 400.6 L1855.1 390.0 L1857.8 379.4 L1855.1 374.1 L1856.9 367.0 L1860.4 358.1 L1864.0 351.9 L1871.1 347.5 L1877.2 338.7 L1879.0 347.5 L1882.6 359.9 L1886.1 351.1 L1883.4 340.4 L1887.0 331.6 L1892.3 326.3 L1900.3 323.6 L1893.2 320.9 L1891.4 312.1 L1895.0 305.0 L1906.5 303.2 L1917.1 306.8 L1927.7 310.3 L1940.1 313.9 L1952.5 317.4 L1959.6 326.3 L1964.0 332.5 L1957.8 335.1 L1962.3 344.0 L1966.7 354.6 L1968.5 367.0 L1963.1 375.8 L1959.6 384.7 L1950.7 391.8 L1949.0 404.2 L1954.3 407.7 L1961.4 410.4 L1967.6 398.9 L1973.8 388.2 L1985.3 380.3 L1996.8 386.5 L2005.6 406.0 L2012.7 423.7 L2016.3 434.3 L2015.4 444.9 L2010.0 465.0 L2015.0 495.0 L2021.3 504.0 L2026.9 517.8 L2040.0 525.0 L2065.0 515.0 L2080.0 490.0 L2087.9 477.4 L2101.0 471.4 L2112.7 459.7 L2125.1 449.1 L2124.9 452.6 L2137.3 440.2 L2144.4 426.1 L2151.5 415.4 L2146.2 410.1 L2139.1 401.3 L2140.8 390.6 L2162.1 381.8 L2186.9 378.3 L2197.5 381.8 L2211.7 374.7 L2227.6 364.1 L2240.0 351.7 L2241.8 337.5 L2232.9 334.0 L2227.6 326.9 L2232.9 319.8 L2243.6 309.2 L2250.6 291.5 L2263.0 273.8 L2273.7 264.2 L2328.6 250.7 L2390.5 230.6 L2394.1 215.3 L2401.2 211.8 L2404.7 215.3 L2406.5 206.5 L2415.3 197.6 L2418.9 178.1 L2422.4 164.0 L2417.1 153.3 L2420.6 139.2 L2420.6 121.5 L2424.2 107.3 L2434.8 80.7 L2440.1 80.7 L2441.9 87.8 L2450.8 89.6 L2459.6 79.0 L2470.2 73.6 L2480.9 77.2 L2489.7 82.5 L2511.0 142.7 L2516.3 151.6 L2526.9 153.3 L2532.2 165.7 L2541.1 172.8 L2549.9 172.8 L2558.8 183.4 L2555.2 195.8 L2544.6 206.5 L2534.0 217.1 L2523.4 224.2 L2512.7 233.0 L2500.3 238.3 L2507.4 249.0 L2491.5 256.1 L2477.3 266.7 L2463.2 277.3 L2459.6 287.9 L2456.1 302.1 L2454.3 319.8 L2451.8 328.7 L2460.0 350.0 L2480.0 370.0 L2510.0 395.0 L2514.0 402.0 L2508.0 406.0 L2485.0 400.0 L2465.0 406.0 L2450.0 415.0 L2420.0 465.0 L2390.0 475.0 L2370.0 490.0 L2370.0 505.0 L2372.0 540.0 L2360.0 570.0 L2350.0 610.0 L2351.8 637.8 L2348.2 647.7 L2347.5 657.6 L2344.7 666.8 L2341.8 674.6 L2345.0 700.0 L2360.0 730.0 L2365.8 739.7 L2374.6 752.1 L2381.7 769.8 L2374.6 784.0 L2356.9 798.1 L2348.0 817.6 L2332.1 822.9 L2317.9 833.6 L2305.5 847.7 L2296.7 865.4 L2297.7 871.1 L2277.6 877.7 L2264.6 885.3 L2255.2 901.8 L2251.6 916.0 L2250.4 927.8 L2238.6 932.5 L2231.5 946.7 L2219.7 958.5 L2205.6 970.3 L2203.2 977.4 L2193.8 986.8 L2189.0 995.1 L2186.7 1003.4 L2183.5 1016.0 L2179.8 1032.1 L2176.3 1053.3 L2178.0 1069.3 L2183.3 1085.2 L2192.2 1106.5 L2204.6 1127.7 L2213.4 1141.9 L2232.9 1177.3 L2254.2 1209.2 L2264.8 1223.4 L2282.5 1258.8 L2291.4 1294.2 L2291.4 1315.4 L2286.1 1333.2 L2279.0 1347.3 L2264.8 1349.1 L2252.4 1354.4 L2247.1 1343.8 L2236.5 1326.1 L2222.3 1319.0 L2211.7 1311.9 L2202.8 1297.7 L2194.0 1294.2 L2188.7 1290.6 L2183.3 1280.0 L2165.6 1251.7 L2149.7 1223.4 L2146.2 1202.1 L2142.6 1184.4 L2133.8 1166.7 L2123.1 1163.1 L2116.0 1152.5 L2101.9 1141.9 L2091.3 1131.3 L2080.6 1126.0 L2090.0 1129.5 L2070.9 1124.2 L2056.7 1127.7 L2042.5 1141.9 L2028.4 1154.3 L2010.7 1152.5 L2003.6 1141.9 L1985.9 1133.0 L1961.1 1126.0 L1932.7 1127.7 L1911.5 1133.0 L1895.5 1138.3 L1892.0 1131.3 L1886.7 1118.9 L1882.4 1120.6 L1881.4 1138.3 L1869.0 1139.1 L1858.4 1141.9 L1840.6 1140.1 L1822.9 1147.2 L1817.6 1152.5 L1803.5 1164.9 L1808.8 1166.7 L1822.9 1161.4 L1824.7 1172.0 L1815.9 1177.3 L1815.9 1187.9 L1830.0 1193.2 L1840.6 1198.6 L1849.5 1202.1 L1844.2 1211.0 L1833.6 1218.0 L1826.5 1209.2 L1810.5 1202.1 L1803.5 1195.0 L1801.7 1205.6 L1789.3 1214.5 L1784.0 1205.6 L1773.4 1212.7 L1766.3 1219.8 L1752.1 1212.7 L1745.0 1205.6 L1730.9 1195.0 L1716.7 1198.6 L1723.8 1187.9 L1711.4 1184.4 L1699.0 1193.2 L1681.3 1196.8 L1656.5 1189.7 L1638.8 1190.8 L1617.5 1195.0 L1610.4 1198.6 L1582.1 1219.8 L1555.5 1242.8 L1535.0 1253.0 L1516.1 1263.6 L1499.6 1275.4 L1485.4 1289.6 L1473.6 1306.1 L1466.5 1322.6 L1464.2 1339.2 L1468.9 1358.1 L1474.8 1381.7 L1478.3 1400.6 L1465.4 1407.2 L1459.5 1405.3 L1445.3 1397.0 L1424.0 1395.8 L1402.8 1387.6 L1381.5 1377.0 L1376.8 1362.8 L1374.0 1357.9 L1363.4 1336.7 L1359.8 1315.4 L1345.7 1304.8 L1331.5 1283.6 L1320.9 1265.9 L1310.2 1244.6 L1299.6 1226.9 L1281.9 1214.5 L1271.3 1202.1 L1250.0 1200.3 L1232.3 1195.0 L1221.7 1198.6 L1211.1 1205.6 L1204.0 1226.9 L1193.4 1241.1 L1186.3 1241.1 L1172.1 1230.4 L1150.9 1219.8 L1136.7 1209.2 L1126.1 1195.0 L1122.5 1177.3 L1117.2 1166.7 L1113.7 1152.5 L1101.3 1141.9 L1083.6 1127.7 L1065.8 1110.0 L1051.7 1092.3 L1042.8 1074.6 L1041.8 1082.7 L969.5 1078.8 L967.4 1102.9 L930.2 1098.7 L928.6 1097.6 L838.3 1088.8 L680.6 1005.5 L687.7 994.9 L602.7 988.9 L556.7 982.5 L542.5 954.2 L535.4 939.8 L521.3 922.1 L496.5 911.5 L471.7 900.9 L450.4 879.6 L436.3 847.7 L422.1 819.4 L415.0 791.1 L423.9 762.7 L416.8 737.9 L420.3 716.7 L413.2 702.5 L406.2 681.3 L400.8 649.4 L390.2 617.5 L384.9 610.4 L376.0 592.7 L377.8 571.5 L383.1 553.8 L381.4 539.6 L370.7 521.9 L369.0 504.2 L386.7 490.0 L397.3 450.9 L393.8 440.2 L395.5 427.8 L393.8 415.4 L399.1 397.7 L397.3 383.6 L409.7 358.8 L425.6 330.4 L443.3 284.4 L454.0 249.0 L461.8 213.6 L464.6 195.8 L468.8 174.6 L466.4 146.3 L463.9 110.8 L466.4 96.0 L471.7 98.4 L492.9 114.4 L514.2 110.8 L523.0 97.4 L528.3 93.1 L543.2 98.4 L541.5 82.5Z"/>
<path d="M2251.6 1379.5 L2238.0 1386.0 L2224.5 1391.3" stroke-width="5"/>
<circle cx="2209.1" cy="1393.2" r="2.6" fill="#fff" stroke="none"/>
</g>
<g font-family="Liberation Sans, sans-serif" font-weight="bold" font-size="51" fill="#F9A21C" text-anchor="middle" letter-spacing="-0.5">
<circle cx="525.9" cy="142.7" r="43.25" fill="#fff" stroke="#F9A21C" stroke-width="3.5"/><text x="523.1" y="160.8">13</text>
<circle cx="523.0" cy="262.4" r="43.25" fill="#fff" stroke="#F9A21C" stroke-width="3.5"/><text x="520.2" y="280.5">19</text>
<circle cx="1075.8" cy="449.1" r="43.25" fill="#fff" stroke="#F9A21C" stroke-width="3.5"/><text x="1073.0" y="467.2">22</text>
<circle cx="1601.6" cy="408.4" r="43.25" fill="#fff" stroke="#F9A21C" stroke-width="3.5"/><text x="1598.8" y="426.5">18</text>
<circle cx="1814.4" cy="523.1" r="43.25" fill="#fff" stroke="#F9A21C" stroke-width="3.5"/><text x="1811.6" y="541.2">3</text>
<circle cx="1788.7" cy="453.1" r="43.25" fill="#fff" stroke="#F9A21C" stroke-width="3.5"/><text x="1785.9" y="471.2">29</text>
<circle cx="1890.5" cy="454.9" r="43.25" fill="#fff" stroke="#F9A21C" stroke-width="3.5"/><text x="1887.7" y="473.0">50</text>
<circle cx="1986.2" cy="481.5" r="43.25" fill="#fff" stroke="#F9A21C" stroke-width="3.5"/><text x="1983.4" y="499.6">11</text>
<circle cx="2072.0" cy="518.1" r="43.25" fill="#fff" stroke="#F9A21C" stroke-width="3.5"/><text x="2069.2" y="536.2">28</text>
<circle cx="2171.2" cy="541.2" r="43.25" fill="#fff" stroke="#F9A21C" stroke-width="3.5"/><text x="2168.4" y="559.3">37</text>
<circle cx="2362.5" cy="461.3" r="43.25" fill="#fff" stroke="#F9A21C" stroke-width="3.5"/><text x="2359.7" y="479.4">2</text>
<circle cx="2427.3" cy="441.1" r="43.25" fill="#fff" stroke="#F9A21C" stroke-width="3.5"/><text x="2424.5" y="459.2">43</text>
<circle cx="2403.9" cy="379.5" r="43.25" fill="#fff" stroke="#F9A21C" stroke-width="3.5"/><text x="2401.1" y="397.6">45</text>
<circle cx="2479.0" cy="367.8" r="43.25" fill="#fff" stroke="#F9A21C" stroke-width="3.5"/><text x="2476.2" y="385.9">4</text>
<circle cx="2359.3" cy="531.4" r="43.25" fill="#fff" stroke="#F9A21C" stroke-width="3.5"/><text x="2356.5" y="549.5">14</text>
<circle cx="2334.8" cy="596.0" r="43.25" fill="#fff" stroke="#F9A21C" stroke-width="3.5"/><text x="2332.0" y="614.1">17</text>
<circle cx="2259.4" cy="620.8" r="43.25" fill="#fff" stroke="#F9A21C" stroke-width="3.5"/><text x="2256.6" y="638.9">6</text>
<circle cx="416.8" cy="652.9" r="43.25" fill="#fff" stroke="#F9A21C" stroke-width="3.5"/><text x="414.0" y="671.0">5</text>
<circle cx="469.9" cy="605.1" r="43.25" fill="#fff" stroke="#F9A21C" stroke-width="3.5"/><text x="467.1" y="623.2">20</text>
<circle cx="464.6" cy="713.9" r="43.25" fill="#fff" stroke="#F9A21C" stroke-width="3.5"/><text x="461.8" y="732.0">21</text>
<circle cx="542.5" cy="751.4" r="43.25" fill="#fff" stroke="#F9A21C" stroke-width="3.5"/><text x="539.7" y="769.5">49</text>
<circle cx="448.7" cy="801.0" r="43.25" fill="#fff" stroke="#F9A21C" stroke-width="3.5"/><text x="445.9" y="819.1">47</text>
<circle cx="480.5" cy="866.5" r="43.25" fill="#fff" stroke="#F9A21C" stroke-width="3.5"/><text x="477.7" y="884.6">1</text>
<circle cx="540.7" cy="877.9" r="43.25" fill="#fff" stroke="#F9A21C" stroke-width="3.5"/><text x="537.9" y="896.0">16</text>
<circle cx="570.9" cy="955.9" r="43.25" fill="#fff" stroke="#F9A21C" stroke-width="3.5"/><text x="568.1" y="974.0">9</text>
<circle cx="689.5" cy="780.4" r="43.25" fill="#fff" stroke="#F9A21C" stroke-width="3.5"/><text x="686.7" y="798.5">36</text>
<circle cx="856.0" cy="605.1" r="43.25" fill="#fff" stroke="#F9A21C" stroke-width="3.5"/><text x="853.2" y="623.2">32</text>
<circle cx="825.9" cy="959.5" r="43.25" fill="#fff" stroke="#F9A21C" stroke-width="3.5"/><text x="823.1" y="977.6">15</text>
<circle cx="1548.4" cy="697.2" r="43.25" fill="#fff" stroke="#F9A21C" stroke-width="3.5"/><text x="1545.6" y="715.3">33</text>
<circle cx="1739.7" cy="694.7" r="43.25" fill="#fff" stroke="#F9A21C" stroke-width="3.5"/><text x="1736.9" y="712.8">23</text>
<circle cx="1899.1" cy="637.0" r="43.25" fill="#fff" stroke="#F9A21C" stroke-width="3.5"/><text x="1896.3" y="655.1">24</text>
<circle cx="1902.6" cy="706.8" r="43.25" fill="#fff" stroke="#F9A21C" stroke-width="3.5"/><text x="1899.8" y="724.9">44</text>
<circle cx="1980.6" cy="660.0" r="43.25" fill="#fff" stroke="#F9A21C" stroke-width="3.5"/><text x="1977.8" y="678.1">30</text>
<circle cx="2010.7" cy="590.9" r="43.25" fill="#fff" stroke="#F9A21C" stroke-width="3.5"/><text x="2007.9" y="609.0">38</text>
<circle cx="1910.8" cy="832.9" r="43.25" fill="#fff" stroke="#F9A21C" stroke-width="3.5"/><text x="1908.0" y="851.0">26</text>
<circle cx="2052.5" cy="803.5" r="43.25" fill="#fff" stroke="#F9A21C" stroke-width="3.5"/><text x="2049.7" y="821.6">48</text>
<circle cx="1769.8" cy="882.4" r="43.25" fill="#fff" stroke="#F9A21C" stroke-width="3.5"/><text x="1767.0" y="900.5">42</text>
<circle cx="2224.1" cy="691.9" r="43.25" fill="#fff" stroke="#F9A21C" stroke-width="3.5"/><text x="2221.3" y="710.0">40</text>
<circle cx="2330.3" cy="709.6" r="43.25" fill="#fff" stroke="#F9A21C" stroke-width="3.5"/><text x="2327.5" y="727.7">34</text>
<circle cx="2188.7" cy="819.4" r="43.25" fill="#fff" stroke="#F9A21C" stroke-width="3.5"/><text x="2185.9" y="837.5">25</text>
<circle cx="2261.3" cy="796.4" r="43.25" fill="#fff" stroke="#F9A21C" stroke-width="3.5"/><text x="2258.5" y="814.5">39</text>
<circle cx="1440.2" cy="1167.7" r="43.25" fill="#fff" stroke="#F9A21C" stroke-width="3.5"/><text x="1437.4" y="1185.8">27</text>
<circle cx="1476.7" cy="1087.0" r="43.25" fill="#fff" stroke="#F9A21C" stroke-width="3.5"/><text x="1473.9" y="1105.1">8</text>
<circle cx="1398.1" cy="1233.3" r="43.25" fill="#fff" stroke="#F9A21C" stroke-width="3.5"/><text x="1395.3" y="1251.4">35</text>
<circle cx="1564.4" cy="1198.6" r="43.25" fill="#fff" stroke="#F9A21C" stroke-width="3.5"/><text x="1561.6" y="1216.7">7</text>
<circle cx="1913.3" cy="968.3" r="43.25" fill="#fff" stroke="#F9A21C" stroke-width="3.5"/><text x="1910.5" y="986.4">46</text>
<circle cx="2037.2" cy="943.5" r="43.25" fill="#fff" stroke="#F9A21C" stroke-width="3.5"/><text x="2034.4" y="961.6">12</text>
<circle cx="2161.4" cy="1243.9" r="43.25" fill="#fff" stroke="#F9A21C" stroke-width="3.5"/><text x="2158.6" y="1262.0">31</text>
<circle cx="2211.7" cy="1182.6" r="43.25" fill="#fff" stroke="#F9A21C" stroke-width="3.5"/><text x="2208.9" y="1200.7">41</text>
<circle cx="2287.8" cy="1269.4" r="43.25" fill="#fff" stroke="#F9A21C" stroke-width="3.5"/><text x="2285.0" y="1287.5">10</text>
</g></svg></div>
<div class="abs" style="z-index:3;left:2513px;top:3879px;width:5px;height:46px;background:#fff"></div>
</body></html>
